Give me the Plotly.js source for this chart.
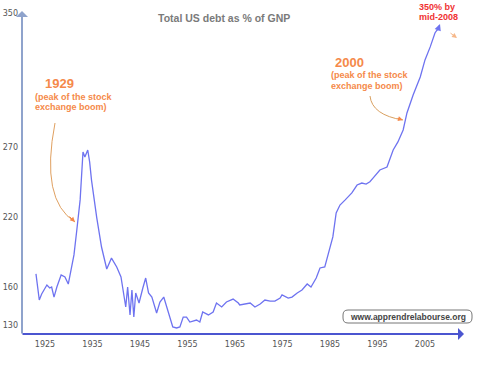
<!DOCTYPE html>
<html>
<head>
<meta charset="utf-8">
<script src="https://cdn.plot.ly/plotly-3.0.1.min.js"></script>
<style>html,body{margin:0;padding:0;background:#fff;}#chart{width:480px;height:371px;}</style>
</head>
<body>
<div id="chart"></div>
<script>
// Data
var years = [1923.1,1923.8,1924.3,1925.4,1926.0,1926.4,1926.9,1927.5,1928.4,1929.2,1929.9,1930.4,1931.1,1931.7,1932.4,1933.0,1933.4,1934.0,1934.4,1934.8,1935.2,1935.9,1936.9,1938.0,1939.0,1940.1,1941.0,1941.5,1942.0,1942.4,1942.9,1943.3,1943.7,1944.1,1944.8,1945.6,1946.2,1946.8,1947.5,1948.5,1949.2,1950.0,1950.6,1951.2,1951.9,1952.7,1953.4,1954.1,1954.8,1955.5,1956.9,1957.6,1958.2,1959.4,1960.4,1961.1,1962.2,1963.2,1964.6,1965.7,1966.0,1968.2,1969.2,1970.3,1971.3,1972.4,1973.4,1974.5,1974.9,1976.2,1977.0,1978.1,1979.1,1980.2,1981.0,1982.1,1982.9,1983.9,1985.0,1985.6,1986.3,1987.1,1988.2,1989.6,1990.7,1991.7,1992.6,1993.4,1994.1,1995.5,1997.0,1998.3,1999.3,2000.4,2001.2,2002.5,2004.0,2005.0,2006.1,2007.1,2008.0];
var debtPct = [166.0,147.6,151.9,158.2,156.1,156.8,149.7,156.8,165.3,163.9,158.9,167.4,179.4,197.0,218.2,252.0,248.5,253.4,245.0,232.0,221.0,205.5,185.0,169.5,177.2,170.9,163.9,154.7,142.7,156.8,137.1,154.7,135.6,152.6,145.5,156.1,163.1,152.6,149.7,138.5,146.2,149.7,142.7,134.9,128.6,127.9,128.6,135.6,135.6,132.1,133.5,132.1,139.2,137.1,139.2,145.5,142.7,146.2,148.3,145.5,144.1,145.5,142.7,144.8,147.6,146.9,146.9,149.0,151.2,149.0,149.7,152.6,154.7,158.9,156.8,163.1,170.2,170.9,185.0,192.1,209.0,214.6,218.2,223.1,228.7,230.1,229.4,231.0,233.7,239.3,241.4,253.4,259.1,267.5,279.5,292.2,304.9,316.9,326.1,335.9,340.2];
var xTickYears = [1925,1935,1945,1955,1965,1975,1985,1995,2005];
var yTickLabels = ['130','160','220','270','350'];

// layout helpers: pixel -> paper coordinates (plot area 22..462 x 13..334)
var L = 22, R = 462, T = 13, B = 334;
function px(x){ return (x - L) / (R - L); }
function py(y){ return (B - y) / (B - T); }

var orange = '#f5894a';
var font = 'Liberation Sans, Arial, sans-serif';
var lineColor = 'rgb(110,115,240)';

var trace = {
  x: years, y: debtPct, type: 'scatter', mode: 'lines',
  line: {color: lineColor, width: 1.3},
  hoverinfo: 'skip', cliponaxis: false
};

function txt(x, y, text, size, color, anchor){
  return {xref:'paper', yref:'paper', x:px(x), y:py(y), text:text, showarrow:false,
    xanchor: anchor || 'center', yanchor:'middle',
    font:{family:font, size:size, color:color, weight:'bold'}};
}
function arrowHead(x0, y0, x1, y1, color, w, head){
  return {xref:'paper', yref:'paper', x:px(x1), y:py(y1), axref:'pixel', ayref:'pixel',
    ax: x0 - x1, ay: y0 - y1, text:'', showarrow:true, arrowhead: head || 2, arrowsize:1,
    arrowwidth: w || 1, arrowcolor:color, standoff:0};
}

var annotations = [
  txt(224, 18, 'Total US debt as % of GNP', 10.5, '#7a7a7a'),
  txt(59, 83, '1929', 13, orange),
  txt(33, 97, '(peak of the stock', 9, orange, 'left'),
  txt(33, 107, 'exchange boom)', 9, orange, 'left'),
  txt(349, 62, '2000', 13, orange),
  txt(329, 75, '(peak of the stock', 9, orange, 'left'),
  txt(329, 86, 'exchange boom)', 9, orange, 'left'),
  txt(437, 7, '350% by', 9, '#f03232'),
  txt(438, 17, 'mid-2008', 9, '#f03232'),
  {xref:'paper', yref:'paper', x:px(407.5), y:py(316.5), text:'www.apprendrelabourse.org', showarrow:false,
    xanchor:'center', yanchor:'middle', font:{family:font, size:8.5, color:'#444', weight:'bold'}},
  // arrow heads
  arrowHead(68, 215, 75, 222, orange),
  arrowHead(396, 118, 403, 120, orange),
  arrowHead(449, 32, 457, 38, '#f6b88a'),
  arrowHead(437, 32, 440, 24, lineColor, 1.3, 2),
  // axes drawn as arrows
  arrowHead(22, 335, 22, 11, '#8fa3cc', 2, 1),
  arrowHead(21, 334, 464, 334, '#4b55d0', 2, 1)
];

function pth(pts){
  var s = 'M' + px(pts[0][0]) + ',' + py(pts[0][1]);
  s += ' Q' + px(pts[1][0]) + ',' + py(pts[1][1]) + ' ' + px(pts[2][0]) + ',' + py(pts[2][1]);
  return s;
}
function roundRect(x0, y0, x1, y1, r){
  return 'M' + px(x0 + r) + ',' + py(y0) + ' L' + px(x1 - r) + ',' + py(y0) +
    ' Q' + px(x1) + ',' + py(y0) + ' ' + px(x1) + ',' + py(y0 + r) +
    ' L' + px(x1) + ',' + py(y1 - r) +
    ' Q' + px(x1) + ',' + py(y1) + ' ' + px(x1 - r) + ',' + py(y1) +
    ' L' + px(x0 + r) + ',' + py(y1) +
    ' Q' + px(x0) + ',' + py(y1) + ' ' + px(x0) + ',' + py(y1 - r) +
    ' L' + px(x0) + ',' + py(y0 + r) +
    ' Q' + px(x0) + ',' + py(y0) + ' ' + px(x0 + r) + ',' + py(y0) + ' Z';
}

var shapes = [
  // 1929 curved arrow
  {type:'path', xref:'paper', yref:'paper', path: pth([[55,123],[40,200],[75,222]]), line:{color:'#e0a060', width:1}},
  // 2000 curved arrow
  {type:'path', xref:'paper', yref:'paper', path: pth([[370,96],[372,115],[403,120]]), line:{color:'#d9a060', width:1}},
  // watermark box
  {type:'path', xref:'paper', yref:'paper', path: roundRect(343, 310, 472, 323, 5), line:{color:'#777', width:1}, fillcolor:'rgba(255,255,255,0)'}
];

var layout = {
  width: 480, height: 371,
  margin: {l: L, r: 480 - R, t: T, b: 371 - B},
  paper_bgcolor: '#fff', plot_bgcolor: '#fff',
  showlegend: false,
  xaxis: {range: [1920.16, 2012.79], tickvals: xTickYears, ticktext: xTickYears.map(String),
    showgrid: false, zeroline: false, showline: false,
    ticks: '', ticklabelstandoff: 4,
    tickfont: {family: 'DejaVu Sans, sans-serif', size: 8, color: '#555'}},
  yaxis: {range: [123.65, 350], tickvals: [130, 156.8, 206.2, 255.5, 350], ticktext: yTickLabels,
    showgrid: false, zeroline: false, showline: false,
    ticks: '', ticklabelstandoff: 3,
    tickfont: {family: 'DejaVu Sans, sans-serif', size: 8, color: '#555'}},
  annotations: annotations,
  shapes: shapes
};

Plotly.newPlot('chart', [trace], layout, {staticPlot: true, displayModeBar: false});
</script>
</body>
</html>
